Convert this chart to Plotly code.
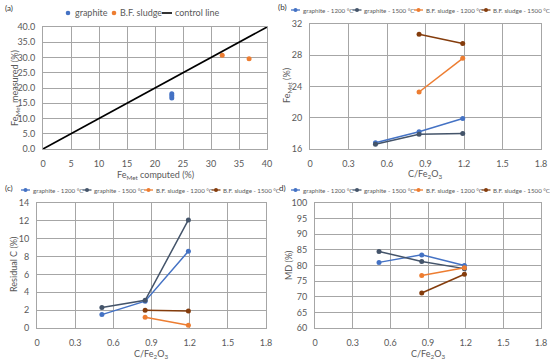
import plotly.graph_objects as go

W, H = 550, 362

# ---------------- data ----------------
# panel (a)
a_graphite_x = [23.0, 23.0, 23.0]
a_graphite_y = [18.1, 17.5, 16.7]
a_sludge_x = [32.0, 36.8]
a_sludge_y = [30.7, 29.6]
a_control_x = [0, 40]
a_control_y = [0, 40]

# panels (b)-(d)
ratio_graphite = [0.51, 0.85, 1.19]
ratio_sludge = [0.85, 1.19]

b_g1200 = [16.8, 18.2, 19.9]
b_g1500 = [16.6, 17.9, 18.0]
b_s1200 = [23.3, 27.6]
b_s1500 = [30.7, 29.5]

c_g1200 = [1.5, 3.0, 8.6]
c_g1500 = [2.3, 3.1, 12.1]
c_s1200 = [1.2, 0.3]
c_s1500 = [2.0, 1.9]

d_g1200 = [81.0, 83.4, 80.0]
d_g1500 = [84.5, 81.3, 79.0]
d_s1200 = [76.8, 79.3]
d_s1500 = [71.2, 77.2]

series_names = ["graphite - 1200 °C", "graphite - 1500 °C",
                "B.F. sludge - 1200 °C", "B.F. sludge - 1500 °C"]
series_colors = ["#4472C4", "#44546A", "#ED7D31", "#843C0C"]

FONT = "Lato"
TXT = "#595959"
GRID = "#A6A6A6"

fig = go.Figure()


def px_x(p):
    return p / W


def px_y(p):
    return 1 - p / H


# ---------------- panel (a) ----------------
fig.add_trace(go.Scatter(x=a_graphite_x, y=a_graphite_y, mode="markers",
                         marker=dict(color="#4472C4", size=5), name="graphite",
                         xaxis="x", yaxis="y", showlegend=False))
fig.add_trace(go.Scatter(x=a_sludge_x, y=a_sludge_y, mode="markers",
                         marker=dict(color="#ED7D31", size=5), name="B.F. sludge",
                         xaxis="x", yaxis="y", showlegend=False))
fig.add_trace(go.Scatter(x=a_control_x, y=a_control_y, mode="lines",
                         line=dict(color="black", width=1.6), name="control line",
                         xaxis="x", yaxis="y", showlegend=False))

# ---------------- panels (b)-(d) ----------------
panels = [
    ("x2", "y2", [b_g1200, b_g1500, b_s1200, b_s1500]),
    ("x3", "y3", [c_g1200, c_g1500, c_s1200, c_s1500]),
    ("x4", "y4", [d_g1200, d_g1500, d_s1200, d_s1500]),
]
for xa, ya, vals in panels:
    for i, v in enumerate(vals):
        xs = ratio_graphite if i < 2 else ratio_sludge
        fig.add_trace(go.Scatter(x=xs, y=v, mode="lines+markers",
                                 line=dict(color=series_colors[i], width=1.5),
                                 marker=dict(color=series_colors[i], size=5),
                                 name=series_names[i], xaxis=xa, yaxis=ya,
                                 showlegend=False))


def axis(domain, rng, dtick, anchor, fmt=None, xa=True):
    d = dict(domain=domain, range=rng, dtick=dtick, tick0=0, anchor=anchor,
             showgrid=True, gridcolor=GRID, gridwidth=1,
             showline=True, linecolor=GRID, linewidth=1, mirror=True,
             zeroline=False, ticks="", automargin=False,
             ticklabelstandoff=6 if xa else 5,
             tickfont=dict(family=FONT, size=9, color=TXT))
    if fmt:
        d["tickformat"] = fmt
    return d


fig.update_layout(
    width=W, height=H, margin=dict(l=0, r=0, t=0, b=0),
    paper_bgcolor="white", plot_bgcolor="white",
    font=dict(family=FONT, color=TXT),
    xaxis=axis([px_x(43), px_x(267)], [0, 40], 5, "y"),
    yaxis=axis([px_y(149), px_y(27)], [0, 40], 5, "x", fmt=".1f", xa=False),
    xaxis2=axis([px_x(310), px_x(541)], [0, 1.8], 0.3, "y2"),
    yaxis2=axis([px_y(149), px_y(24)], [16, 32], 4, "x2", xa=False),
    xaxis3=axis([px_x(37), px_x(266)], [0, 1.8], 0.3, "y3"),
    yaxis3=axis([px_y(328), px_y(203)], [0, 14], 2, "x3", xa=False),
    xaxis4=axis([px_x(315), px_x(541)], [0, 1.8], 0.3, "y4"),
    yaxis4=axis([px_y(328), px_y(203)], [60, 100], 5, "x4", xa=False),
)

shapes = []
annotations = []


def text(t, x, y, size, color=TXT, anchor="center", angle=0):
    annotations.append(dict(text=t, x=px_x(x), y=px_y(y), xref="paper", yref="paper",
                            xanchor=anchor, yanchor="middle", showarrow=False,
                            textangle=angle,
                            font=dict(family=FONT, size=size, color=color)))


# panel labels
for t, x, y in [("(a)", 3, 8), ("(b)", 276, 7), ("(c)", 3, 188), ("d)", 277, 188)]:
    text(t, x, y, 8, "#333333", "left")

# axis titles
text("Fe<sub>Met</sub> computed (%)", 155, 175, 9)
text("Fe<sub>Met</sub> measured (%)", 15, 88, 9, angle=-90)
text("C/Fe<sub>2</sub>O<sub>3</sub>", 425, 174, 9)
text("Fe<sub>Met</sub> (%)", 287, 86, 9, angle=-90)
text("C/Fe<sub>2</sub>O<sub>3</sub>", 151, 354, 9)
text("Residual C (%)", 13, 265, 9, angle=-90)
text("C/Fe<sub>2</sub>O<sub>3</sub>", 428, 354, 9)
text("MD (%)", 288, 265, 9, angle=-90)

# legend (a)
ly = 13
leg_a = [("graphite", "#4472C4", "marker", 68, 73),
         ("B.F. sludge", "#ED7D31", "marker", 114, 118),
         ("control line", "black", "line", 167, 173)]
for name, col, kind, sx, tx in leg_a:
    if kind == "marker":
        r = 2.3
        shapes.append(dict(type="circle", xref="paper", yref="paper",
                           x0=px_x(sx - r), x1=px_x(sx + r), y0=px_y(ly + r), y1=px_y(ly - r),
                           fillcolor=col, line=dict(width=0)))
    else:
        shapes.append(dict(type="line", xref="paper", yref="paper",
                           x0=px_x(sx - 5), x1=px_x(sx + 5), y0=px_y(ly), y1=px_y(ly),
                           line=dict(color=col, width=1.6)))
    text(name, tx, ly, 9, TXT, "left")

# legends (b)-(d)
for x0, ly in [(291, 10), (21, 190), (291, 190)]:
    sx = x0
    for name, col in zip(series_names, series_colors):
        shapes.append(dict(type="line", xref="paper", yref="paper",
                           x0=px_x(sx), x1=px_x(sx + 9), y0=px_y(ly), y1=px_y(ly),
                           line=dict(color=col, width=1.3)))
        r = 2
        shapes.append(dict(type="circle", xref="paper", yref="paper",
                           x0=px_x(sx + 4.5 - r), x1=px_x(sx + 4.5 + r),
                           y0=px_y(ly + r), y1=px_y(ly - r),
                           fillcolor=col, line=dict(width=0)))
        text(name, sx + 9.5, ly, 6.2, TXT, "left")
        sx += 9.5 + (52 if "graphite" in name else 58)

fig.update_layout(shapes=shapes, annotations=annotations)
fig.write_html("out.html", config={"displayModeBar": False},
               post_script="document.body.style.margin='0';document.body.style.overflow='hidden';")
